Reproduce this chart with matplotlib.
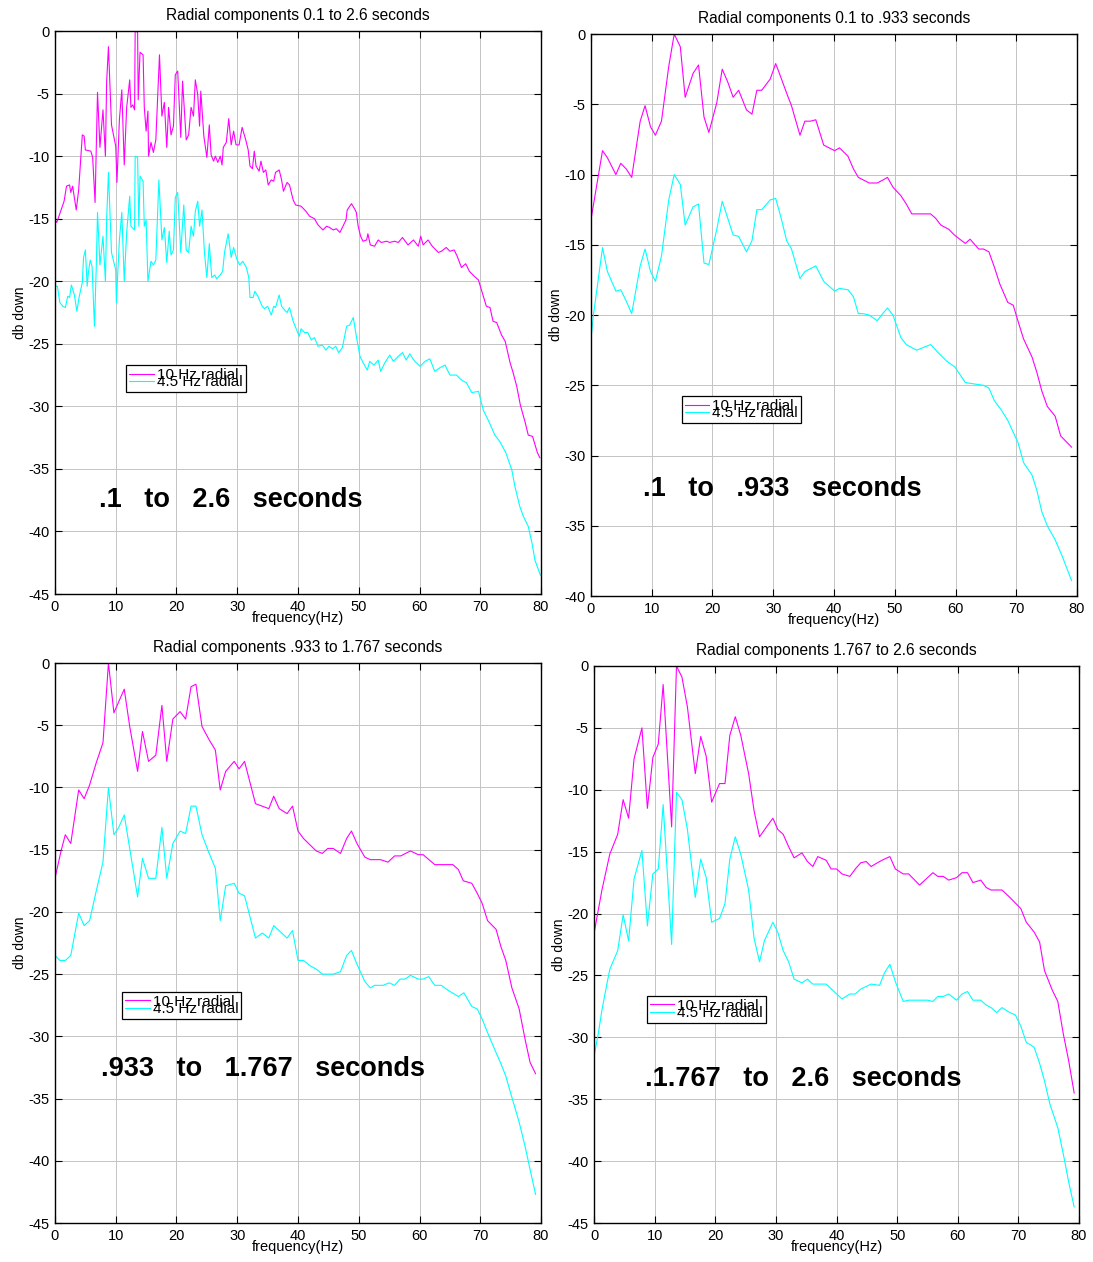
import matplotlib
matplotlib.use('Agg')
import matplotlib.pyplot as plt

plt.rcParams['font.family'] = ['Liberation Sans', 'DejaVu Sans']
plt.rcParams['axes.unicode_minus'] = False

# (frequency Hz, dB), one list per curve

p1_10hz = [(0, -15.1), (0.3, -15.3), (1, -14.3), (1.5, -13.6), (1.9, -12.4), (2.4, -12.3), (2.6, -12.9),
           (2.9, -12.4), (3.5, -14.3), (3.9, -12.7), (4.5, -8.3), (4.8, -8.4), (5, -9.5), (5.9, -9.6),
           (6.2, -10.1), (6.6, -13.7), (6.8, -9.2), (7.0, -4.9), (7.4, -9.3), (7.9, -6.3), (8.3, -10),
           (8.5, -4.1), (8.8, -1.25), (9.3, -7.5), (10, -9.2), (10.2, -12.1), (10.6, -7.1), (11, -4.7),
           (11.4, -10.7), (11.8, -6.1), (12.3, -3.9), (12.5, -6.1), (12.8, -5.9), (13.1, -6.3), (13.2, 0),
           (13.6, -0.1), (13.7, -5.5), (14, -1.7), (14.5, -1.9), (14.7, -6.1), (15, -8), (15.3, -6.4),
           (15.4, -10), (15.8, -8.9), (16.2, -9.7), (16.6, -8.7), (17.2, -1.9), (17.6, -6.8), (18, -5.7),
           (18.4, -9.3), (18.7, -6.1), (19.1, -8.3), (19.5, -7.6), (19.8, -3.5), (20.2, -3.2), (20.7, -8.5),
           (21, -4), (21.6, -8.7), (22, -8.3), (22.4, -6.1), (22.8, -6.8), (23.1, -3.9), (23.5, -5.1),
           (23.8, -7.6), (24, -4.8), (24.5, -8.4), (25, -10.1), (25.4, -7.5), (25.7, -9.9), (26.1, -10.4),
           (26.4, -10), (26.8, -10.5), (27.2, -10), (27.5, -10.7), (27.7, -9.3), (28.2, -8.9), (28.6, -7),
           (29, -9.1), (29.4, -8), (29.8, -9.1), (30.3, -9.1), (30.8, -7.7), (31.4, -8.7), (31.8, -9.5),
           (32.1, -10.8), (32.5, -11), (32.8, -9.6), (33.1, -10.8), (33.6, -11.2), (33.9, -10.4), (34.3, -11.3),
           (34.7, -11.1), (35.1, -12.3), (35.6, -11.9), (36, -12), (36.3, -11.3), (36.9, -11.1), (37.3, -11.9),
           (37.6, -12.8), (38.2, -12.1), (38.6, -12.3), (39.2, -13.5), (39.6, -13.9), (40.5, -14), (41.3, -14.4),
           (41.9, -14.8), (42.7, -15), (43.3, -15.5), (44.1, -15.9), (44.7, -15.6), (45.2, -15.7), (45.8, -15.9),
           (46.3, -15.8), (46.9, -16.1), (47.4, -15.6), (47.9, -15.1), (48.1, -14.3), (48.8, -13.8), (49.3, -14.2),
           (49.6, -14.5), (49.9, -15.6), (50.3, -16.4), (50.7, -16.8), (51.3, -16.7), (51.5, -16.2), (51.9, -17.1),
           (52.6, -17.2), (53.2, -16.7), (53.7, -16.9), (54.6, -16.8), (55.1, -16.9), (55.9, -16.8), (56.5, -16.9),
           (57.2, -16.5), (58.1, -17.1), (59, -16.7), (59.8, -17.2), (60.2, -16.4), (60.6, -17.1), (61.4, -16.7),
           (62.1, -17.2), (63.1, -17.7), (63.6, -17.6), (64.4, -17.3), (65, -17.6), (65.7, -17.5), (66.2, -18),
           (66.9, -18.9), (67.6, -18.6), (68.2, -19.2), (68.8, -19.5), (69.7, -19.9), (70.5, -21.2), (71, -22),
           (71.6, -22.1), (72.1, -23.2), (72.7, -23.3), (73.5, -24.3), (74.1, -24.8), (74.9, -26.5), (75.4, -27.3),
           (76, -28.4), (76.6, -29.9), (77.4, -31.3), (77.9, -32.3), (78.6, -32.4), (79.4, -33.7), (79.8, -34.1)]

p1_45hz = [(0, -20.4), (0.4, -20.4), (0.8, -21.7), (1.3, -22), (1.7, -22.1), (2.1, -21.2), (2.4, -21.3),
           (2.7, -20.3), (3.2, -21.1), (3.6, -22.4), (4, -21.2), (4.5, -20.1), (4.7, -18.1), (5, -17.5),
           (5.3, -20.4), (5.5, -19.3), (5.8, -18.3), (6.1, -18.8), (6.5, -23.6), (6.8, -18.8), (7, -14.5),
           (7.4, -18.7), (7.9, -16.4), (8.3, -20), (8.5, -15.1), (8.8, -11.3), (9.3, -17.7), (10, -19.1),
           (10.1, -21.7), (10.6, -16.7), (11, -14.5), (11.4, -20), (11.8, -16.1), (12.3, -13.2), (12.5, -15.6),
           (13.1, -15.9), (13.2, -10), (13.6, -10.1), (13.8, -15.6), (14, -11.6), (14.5, -12), (14.7, -15.6),
           (15, -15.1), (15.3, -20), (15.8, -18.4), (16.2, -18.7), (16.6, -18.3), (17.1, -11.9), (17.6, -16.7),
           (18, -15.7), (18.4, -18.5), (18.8, -16), (19.1, -17.9), (19.5, -17.5), (19.8, -13.3), (20.2, -12.9),
           (20.7, -17.7), (21.2, -13.9), (21.6, -17.5), (22, -17.7), (22.4, -15.6), (22.8, -16.4), (23.1, -14.4),
           (23.5, -13.6), (23.8, -15.6), (24.2, -14.3), (24.6, -17.7), (25, -19.7), (25.4, -17), (25.8, -19.7),
           (26.3, -19.5), (26.6, -19.8), (27.2, -19.5), (27.6, -19.2), (27.9, -17.7), (28.5, -16.2), (29, -18.1),
           (29.4, -17.3), (29.9, -18.2), (30.4, -18.7), (30.9, -18.4), (31.5, -18.9), (31.9, -19.7), (32.1, -21.3),
           (32.6, -21.3), (32.9, -20.8), (33.4, -21.2), (34.1, -22), (34.5, -22.2), (35, -22), (35.6, -22.7),
           (36, -22), (36.3, -22.1), (36.9, -21.1), (37.3, -22), (37.8, -22.3), (38.2, -22.5), (38.6, -22.1),
           (39.2, -23.2), (39.7, -23.8), (40.2, -24.4), (40.5, -23.8), (41.1, -24.1), (41.6, -24.1), (42.2, -24.7),
           (42.7, -24.5), (43.3, -25.2), (44, -25.1), (44.6, -25.5), (45.1, -25.2), (45.7, -25.4), (46.2, -25.2),
           (46.7, -25.7), (47.3, -25.3), (48, -23.6), (48.5, -23.5), (49.1, -22.9), (49.6, -24.4), (50.2, -26),
           (50.7, -26.5), (51.4, -27.1), (51.8, -26.4), (52.5, -26.7), (53.2, -26.3), (53.6, -27.2), (54.3, -26.5),
           (55.1, -25.9), (55.7, -26.4), (56.5, -26), (57.2, -25.7), (57.8, -26.3), (58.4, -25.8), (59.2, -26.4),
           (60.1, -26.8), (60.9, -26.4), (61.7, -26.2), (62.5, -27.2), (63.4, -26.9), (64.2, -26.7), (65, -27.5),
           (66.1, -27.5), (66.9, -27.9), (67.7, -28.1), (68.6, -28.9), (69.7, -28.8), (70.5, -30.3), (71.5, -31.3),
           (72.4, -32.3), (73.2, -32.8), (74.2, -33.7), (75.2, -35.1), (75.7, -36.4), (76.5, -38), (77.1, -38.8),
           (77.9, -39.6), (78.5, -40.9), (79, -42.3), (79.6, -43.1), (79.9, -43.5)]

p2_10hz = [(0, -13.2), (1.9, -8.3), (2.7, -8.8), (4.1, -10), (4.9, -9.2), (5.8, -9.6), (6.7, -10.2),
           (8.1, -6.2), (8.9, -5.1), (9.8, -6.6), (10.6, -7.2), (11.6, -6.2), (12.8, -2.3), (13.7, 0),
           (14.7, -0.9), (15.5, -4.5), (16.8, -2.8), (17.7, -2.2), (18.6, -5.9), (19.4, -7), (20.7, -4.9),
           (21.6, -2.5), (22.5, -3.4), (23.4, -4.5), (24.3, -4), (25.6, -5.4), (26.5, -5.7), (27.3, -4),
           (28.1, -4), (29.5, -3.2), (30.4, -2.1), (31.1, -2.9), (32.2, -4.2), (33, -5.1), (34.4, -7.2),
           (35.2, -6.2), (36.1, -6.2), (37, -6.1), (38.3, -7.9), (39.2, -8.1), (40.1, -8.3), (40.9, -8.1),
           (42.3, -8.7), (43.2, -9.6), (44, -10.2), (44.9, -10.4), (45.8, -10.6), (47.1, -10.6), (48, -10.4),
           (48.8, -10.2), (49.7, -10.9), (51, -11.5), (51.9, -12.1), (52.8, -12.8), (55.9, -12.8), (56.7, -13.1),
           (57.6, -13.6), (58.9, -13.9), (59.8, -14.3), (61.6, -14.9), (62.4, -14.6), (63.8, -15.3), (64.6, -15.3),
           (65.5, -15.5), (66.4, -16.6), (67.3, -17.8), (68.6, -19.1), (69.5, -19.3), (70.4, -20.6), (71.2, -21.7),
           (72.6, -23), (73.4, -24.1), (74.2, -25.4), (75.1, -26.5), (76.4, -27.2), (77.3, -28.6), (79.1, -29.4)]

p2_45hz = [(0, -21.7), (0.4, -20), (1.9, -15.2), (2.7, -16.9), (4.1, -18.3), (4.9, -18.2), (5.8, -19),
           (6.7, -19.9), (8.1, -16.5), (8.9, -15.3), (9.8, -16.9), (10.6, -17.6), (11.6, -15.8), (12.8, -11.8),
           (13.7, -10), (14.7, -10.7), (15.5, -13.6), (16.8, -12.3), (17.7, -12.1), (18.6, -16.3), (19.4, -16.4),
           (20.7, -13.9), (21.6, -11.9), (22.5, -13.1), (23.4, -14.3), (24.3, -14.4), (25.6, -15.5), (26.5, -14.7),
           (27.3, -12.5), (28.1, -12.5), (29.5, -11.8), (30.4, -11.7), (31.3, -13.1), (32.2, -14.7), (33, -15.3),
           (34.4, -17.4), (35.2, -16.9), (36.1, -16.7), (37, -16.5), (38.3, -17.6), (40.1, -18.3), (40.9, -18.1),
           (42.3, -18.2), (43.2, -18.7), (44, -19.9), (44.8, -19.9), (45.8, -20), (47.1, -20.4), (48, -19.9),
           (48.8, -19.5), (49.7, -20), (51, -21.6), (51.9, -22.1), (53.6, -22.5), (55.9, -22.1), (57.2, -22.7),
           (58.6, -23.3), (59.9, -23.7), (61.6, -24.8), (63, -24.9), (64.6, -25), (65.5, -25.2), (66.4, -26.1),
           (67.6, -26.8), (68.6, -27.5), (70.3, -29.1), (71.2, -30.5), (72.6, -31.4), (73.4, -32.5), (74.2, -34),
           (75.1, -35), (76.4, -36), (77.5, -37.1), (78.3, -38), (79.1, -38.9)]

p3_10hz = [(0, -17.3), (1, -15.1), (1.7, -13.8), (2.6, -14.5), (3.9, -10.2), (4.8, -10.9), (5.7, -9.8),
           (6.8, -8), (7.9, -6.4), (8.8, 0), (9.7, -4), (10.5, -3.1), (11.4, -2.1), (12.3, -5.1), (13.6, -8.7),
           (14.4, -5.5), (15.4, -7.9), (16.6, -7.4), (17.6, -3.4), (18.4, -7.9), (19.4, -4.5), (20.6, -3.9),
           (21.5, -4.5), (22.4, -1.9), (23.2, -1.7), (24.2, -5.1), (25.3, -6.1), (26.4, -7), (27.2, -10.2),
           (28.1, -8.7), (29.5, -7.9), (30.3, -8.5), (31.2, -7.9), (33, -11.3), (34.1, -11.5), (35.2, -11.7),
           (36, -10.7), (36.9, -11.7), (38.2, -12.1), (39.1, -11.5), (40, -13.5), (40.9, -14.1), (43, -15.1),
           (44, -15.3), (44.9, -14.9), (45.8, -14.9), (47, -15.3), (48, -14.1), (48.8, -13.5), (49.7, -14.5),
           (51, -15.6), (51.9, -15.8), (53.6, -15.8), (54.8, -16), (55.9, -15.5), (56.9, -15.5), (58.5, -15.1),
           (59.8, -15.4), (60.6, -15.4), (62.5, -16.2), (65.5, -16.2), (66.4, -16.6), (67.2, -17.5), (68.6, -17.7),
           (69.5, -18.5), (70.3, -19.3), (71.2, -20.7), (72.6, -21.4), (73.4, -22.8), (74.2, -23.9), (75.2, -26.1),
           (76.4, -27.8), (77.4, -30.3), (78.2, -32.1), (79.1, -33)]

p3_45hz = [(0, -23.5), (0.8, -23.9), (1.7, -23.9), (2.6, -23.5), (3.9, -20.1), (4.8, -21.1), (5.7, -20.7),
           (6.8, -18.3), (7.9, -16), (8.8, -10), (9.7, -13.8), (10.5, -13.2), (11.4, -12.2), (12.3, -14.9),
           (13.6, -18.8), (14.4, -15.7), (15.4, -17.3), (16.6, -17.3), (17.6, -13.2), (18.4, -17.3), (19.4, -14.5),
           (20.6, -13.5), (21.5, -13.7), (22.4, -11.5), (23.2, -11.5), (24.2, -13.8), (25.3, -15.2), (26.4, -16.5),
           (27.2, -20.7), (28.1, -17.9), (29.5, -17.7), (30.3, -18.5), (31.2, -18.7), (33, -22.1), (34.1, -21.7),
           (35.2, -22.1), (36, -21.1), (38.2, -22.1), (39.1, -21.5), (40, -23.9), (40.9, -23.9), (41.9, -24.3),
           (43, -24.6), (44, -25), (45.8, -25), (47, -24.8), (48, -23.5), (48.8, -23.1), (49.7, -24.2), (51, -25.6),
           (51.9, -26.1), (52.6, -25.9), (54, -25.9), (55, -25.7), (55.9, -25.9), (56.8, -25.4), (57.6, -25.4),
           (58.5, -25.1), (59.8, -25.4), (60.6, -25.4), (61.5, -25.2), (62.5, -25.9), (63.6, -25.9), (64.7, -26.3),
           (66.4, -26.8), (67.3, -26.5), (68.6, -27.6), (69.5, -27.8), (70.3, -28.6), (71.2, -29.7), (72.5, -31.2),
           (73.4, -32.2), (74.2, -33.2), (75.2, -34.9), (76.4, -36.9), (77.4, -38.9), (78.2, -40.7), (79.1, -42.7)]

p4_10hz = [(0, -21.6), (1.3, -18.1), (2.6, -15.2), (3.9, -13.6), (4.8, -10.8), (5.7, -12.3), (6.6, -7.5),
           (7.9, -5), (8.8, -11.5), (9.7, -7.4), (10.6, -6.3), (11.4, -1.5), (12.8, -13), (13.6, 0), (14.5, -0.9),
           (15.4, -3.3), (16.7, -8.7), (17.6, -5.7), (18.5, -7.3), (19.4, -11), (20.7, -9.5), (21.6, -9.5),
           (22.4, -5.6), (23.3, -4.1), (24.2, -5.6), (25.5, -8.7), (26.4, -11.7), (27.3, -13.8), (28.6, -12.9),
           (29.5, -12.3), (30.3, -13.2), (31.2, -13.6), (32.1, -14.6), (33, -15.5), (34.3, -15.1), (35.2, -15.8),
           (36.1, -16.2), (36.9, -15.4), (38.3, -15.7), (39.1, -16.4), (40, -16.4), (40.9, -16.8), (42.2, -17),
           (43.1, -16.4), (44, -15.9), (44.9, -15.8), (45.7, -16.2), (47.1, -15.8), (47.9, -15.6), (48.8, -15.4),
           (49.7, -16.4), (51, -16.8), (51.9, -16.8), (53.7, -17.7), (55.9, -16.7), (56.7, -17), (57.6, -17),
           (58.5, -17.3), (59.8, -17.1), (60.7, -16.7), (61.6, -16.7), (62.5, -17.5), (63.8, -17.3), (64.7, -17.9),
           (65.5, -18.1), (67.3, -18.1), (68.6, -18.7), (70.4, -19.6), (71.3, -20.7), (72.6, -21.5), (73.5, -22.3),
           (74.3, -24.6), (75.6, -26.2), (76.5, -27.1), (77.4, -29.7), (78.3, -31.9), (79.2, -34.5)]

p4_45hz = [(0, -31.5), (0.7, -29.7), (1.3, -27.8), (1.8, -26.5), (2.6, -24.5), (3.9, -23), (4.8, -20.1),
           (5.7, -22.2), (6.6, -17.2), (7.9, -14.9), (8.8, -21), (9.7, -16.8), (10.6, -16.4), (11.4, -11.2),
           (12.8, -22.5), (13.6, -10.2), (14.5, -10.8), (15.4, -13.2), (16.7, -18.7), (17.6, -15.6), (18.5, -17.1),
           (19.4, -20.7), (20.7, -20.4), (21.6, -19.2), (22.4, -15.6), (23.3, -13.8), (24.2, -15.2), (25.5, -18.1),
           (26.4, -22), (27.3, -23.9), (28.1, -22.2), (29.5, -20.7), (30.3, -21.5), (31.2, -23), (32.1, -23.9),
           (33, -25.3), (34.3, -25.6), (35.2, -25.3), (36.1, -25.7), (38.3, -25.7), (39.6, -26.3), (40.9, -26.9),
           (42.2, -26.5), (43.1, -26.5), (44, -26.1), (45.7, -25.7), (47.1, -25.8), (47.9, -24.8), (48.8, -24.1),
           (49.7, -25.5), (51, -27.1), (51.9, -27), (55, -27), (55.9, -27.1), (56.7, -26.7), (57.6, -26.7),
           (58.5, -26.5), (59.8, -27), (60.7, -26.5), (61.6, -26.3), (62.5, -27), (63.8, -27), (64.7, -27.4),
           (65.5, -27.6), (66.4, -28), (67.3, -27.6), (68.6, -28), (69.5, -28.2), (70.4, -29.1), (71.3, -30.4),
           (72.6, -30.8), (73.5, -32.1), (74.3, -33.5), (75.2, -35.4), (76.5, -37.3), (77.4, -39.4), (78.3, -41.7),
           (79.2, -43.7)]

titles = ['Radial components 0.1 to 2.6 seconds', 'Radial components 0.1 to .933 seconds',
          'Radial components .933 to 1.767 seconds', 'Radial components 1.767 to 2.6 seconds']
notes = ['.1   to   2.6   seconds', '.1   to   .933   seconds',
         '.933   to   1.767   seconds', '.1.767   to   2.6   seconds']
note_pos = [(7.3, -37.5), (8.6, -32.4), (7.5, -32.6), (8.4, -33.4)]
ymins = [-45, -40, -45, -45]
legend_pos = [(0.147, 0.407), (0.187, 0.356), (0.138, 0.413), (0.109, 0.408)]
series_labels = ['10 Hz radial', '4.5 Hz radial']

rects = [[0.0503, 0.5293, 0.4447, 0.4461],
         [0.5407, 0.5277, 0.4447, 0.4453],
         [0.0503, 0.0309, 0.4447, 0.4437],
         [0.5435, 0.0309, 0.4437, 0.4414]]
curves = [(p1_10hz, p1_45hz), (p2_10hz, p2_45hz), (p3_10hz, p3_45hz), (p4_10hz, p4_45hz)]

fig = plt.figure(figsize=(10.93, 12.62), dpi=100)

for i in range(4):
    ax = fig.add_axes(rects[i])
    mag, cya = curves[i]
    ax.plot([p[0] for p in mag], [p[1] for p in mag], color='#ff00ff', lw=0.8, label=series_labels[0])
    ax.plot([p[0] for p in cya], [p[1] for p in cya], color='#00ffff', lw=0.8, label=series_labels[1])
    ax.set_xlim(0, 80)
    ax.set_ylim(ymins[i], 0)
    ax.set_xticks(range(0, 81, 10))
    ax.set_yticks(range(ymins[i], 1, 5))
    ax.grid(True, color='#c4c4c4', lw=0.7)
    ax.set_axisbelow(True)
    ax.tick_params(direction='in', top=True, right=True, length=5, labelsize=10.5, pad=4)
    for s in ax.spines.values():
        s.set_linewidth(1.0)
    ax.set_title(titles[i], fontsize=11.2, pad=8)
    ax.set_ylabel('db down', fontsize=10, labelpad=1)
    ax.set_xlabel('frequency(Hz)', fontsize=10.5, labelpad=-2)
    ax.text(note_pos[i][0], note_pos[i][1], notes[i], fontsize=19.5, fontweight='bold', va='center', ha='left')
    leg = ax.legend(loc='upper left', bbox_to_anchor=legend_pos[i], fontsize=11, fancybox=False,
                    edgecolor='black', framealpha=1, borderpad=0.2, labelspacing=-0.45,
                    handlelength=1.6, handletextpad=0.2, borderaxespad=0)
    leg.get_frame().set_linewidth(0.9)

fig.savefig('out.png', dpi=100)
